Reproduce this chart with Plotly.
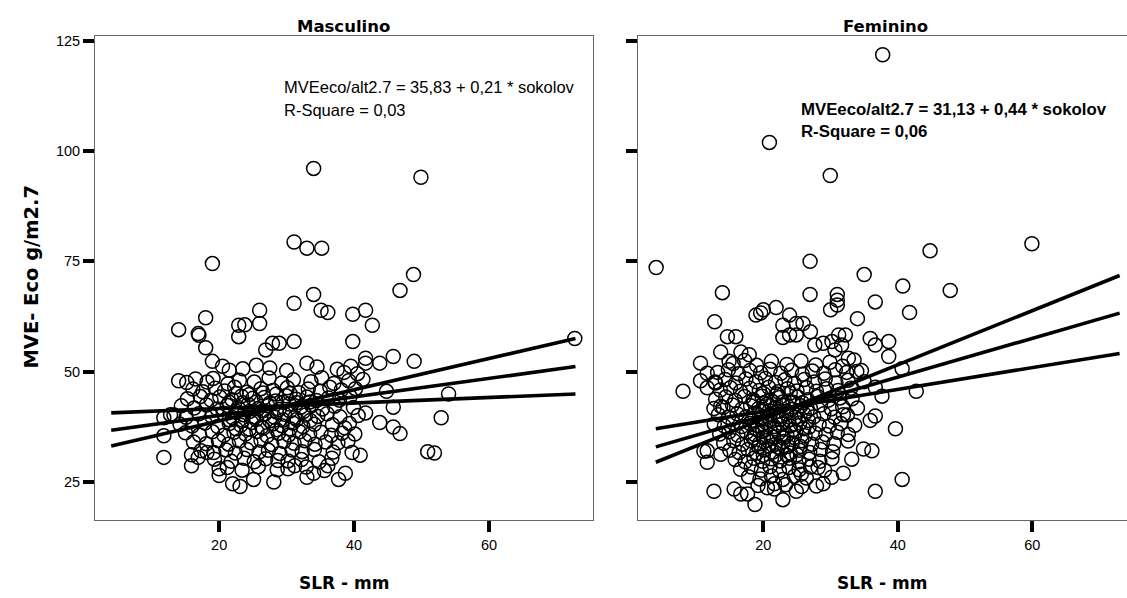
import plotly.graph_objects as go

W, H = 1127, 598

# ---------------- data ----------------
x_ticks = [20, 40, 60]
y_ticks = [25, 50, 75, 100, 125]

# Masculino (SLR mm, MVE g/m2.7)
masc_points = [
    (34.0, 96.1), (49.9, 94.1), (31.1, 79.4), (33.0, 78.0), (35.2, 78.0), (19.0, 74.5), (48.8, 72.0),
    (46.8, 68.4), (34.0, 67.5), (31.1, 65.5), (26.0, 63.9), (35.1, 63.9), (36.1, 63.4), (39.8, 63.0),
    (41.7, 63.9), (18.0, 62.2), (22.9, 60.5), (23.8, 60.6), (26.0, 60.9), (42.7, 60.5), (14.0, 59.5),
    (16.9, 58.6), (17.0, 58.2), (22.9, 57.9), (18.0, 55.4), (26.9, 54.9), (27.9, 56.4), (28.9, 56.4),
    (31.1, 56.8), (39.8, 56.8), (19.0, 52.3), (33.0, 51.9), (41.7, 53.0), (41.7, 51.9), (43.8, 51.9),
    (45.8, 53.4), (48.9, 52.3), (72.7, 57.5), (14.0, 47.9), (44.8, 45.5), (54.0, 44.9), (45.8, 41.9),
    (52.9, 39.5), (11.8, 39.5), (12.8, 40.2), (11.8, 35.4), (11.8, 30.5), (43.8, 38.4), (45.8, 37.4),
    (46.8, 35.9), (50.9, 31.8), (51.9, 31.5), (41.7, 40.6), (22.0, 24.5), (23.1, 23.9), (25.1, 25.5),
    (28.1, 24.9), (33.0, 26.0), (34.0, 26.9), (37.7, 25.5), (38.7, 26.9), (20.0, 27.9), (20.0, 26.4),
    (15.9, 28.6), (15.9, 31.1), (16.9, 30.5), (18.2, 31.6), (30.2, 29.7), (30.2, 27.9), (31.2, 28.6),
    (36.1, 28.6), (39.7, 31.6), (40.9, 31.0), (38.6, 37.2),
    (20.5, 51.2), (21.5, 50.3), (23.5, 50.6), (25.5, 51.4), (27.5, 50.8), (30.0, 50.2), (34.5, 51.0),
    (37.5, 50.5), (38.5, 49.8), (39.5, 51.2), (40.5, 49.5),
    (15.2, 47.5), (16.5, 48.3), (18.2, 47.6), (19.1, 48.4), (21.3, 47.2), (23.0, 48.0), (25.2, 47.6),
    (27.4, 48.5), (29.3, 47.4), (31.0, 48.1), (33.6, 47.7), (35.2, 48.6), (37.0, 47.3), (39.2, 47.9),
    (41.3, 48.2),
    (16.1, 46.0), (17.6, 45.4), (19.4, 46.2), (20.8, 45.6), (22.3, 46.4), (24.1, 45.3), (26.2, 46.1),
    (28.0, 45.7), (30.1, 46.3), (31.8, 45.2), (33.2, 46.0), (35.0, 45.5), (36.4, 46.4), (38.1, 45.8),
    (40.2, 46.1),
    (15.3, 43.8), (17.2, 44.3), (18.8, 43.5), (20.1, 44.2), (21.9, 43.6), (23.3, 44.4), (25.0, 43.9),
    (26.7, 44.1), (28.4, 43.3), (29.9, 44.5), (31.4, 43.7), (33.0, 44.2), (34.4, 43.4), (36.2, 44.0),
    (37.8, 43.5), (39.4, 44.3),
    (14.4, 42.2), (16.3, 41.7), (18.1, 42.4), (19.7, 41.5), (21.2, 42.3), (22.8, 41.8), (24.3, 42.5),
    (25.8, 41.6), (27.2, 42.2), (28.9, 41.4), (30.4, 42.6), (32.1, 41.9), (33.7, 42.3), (35.3, 41.5),
    (37.1, 42.1), (39.9, 41.8),
    (13.3, 40.1), (15.1, 39.6), (17.0, 40.4), (18.9, 39.8), (20.6, 40.5), (22.0, 39.5), (23.6, 40.2),
    (25.1, 39.7), (26.8, 40.4), (28.2, 39.6), (29.7, 40.3), (31.2, 39.5), (32.8, 40.1), (34.6, 39.8),
    (36.0, 40.4), (37.9, 39.7), (40.6, 40.0),
    (14.2, 38.0), (16.0, 37.6), (17.9, 38.3), (19.8, 37.5), (21.5, 38.2), (23.2, 37.8), (24.8, 38.4),
    (26.3, 37.4), (27.9, 38.1), (29.3, 37.7), (30.9, 38.3), (32.4, 37.5), (34.1, 38.0), (36.8, 37.9),
    (39.3, 38.2),
    (15.0, 36.1), (17.1, 35.6), (19.0, 36.3), (20.7, 35.5), (22.2, 36.2), (23.9, 35.8), (25.6, 36.4),
    (27.1, 35.4), (28.8, 36.0), (30.3, 35.6), (31.9, 36.3), (33.4, 35.7), (35.1, 36.2), (36.6, 35.5),
    (38.2, 36.0), (40.1, 35.8),
    (16.2, 34.0), (18.1, 33.6), (19.9, 34.3), (21.4, 33.5), (23.0, 34.2), (24.7, 33.8), (26.2, 34.4),
    (27.8, 33.4), (29.6, 34.1), (31.1, 33.7), (32.7, 34.3), (34.2, 33.5), (35.8, 34.0), (37.6, 33.8),
    (39.1, 34.2),
    (17.3, 32.0), (19.2, 31.6), (21.0, 32.2), (22.4, 31.5), (24.1, 32.3), (25.9, 31.7), (27.3, 32.1),
    (29.0, 31.4), (30.8, 32.2), (32.3, 31.8), (34.1, 32.3), (36.9, 31.7),
    (19.3, 30.1), (21.8, 29.6), (23.7, 30.3), (25.2, 29.5), (26.9, 30.2), (28.7, 29.8), (32.2, 30.0),
    (34.8, 29.5), (36.7, 30.3),
    (21.2, 28.2), (23.4, 27.6), (25.8, 28.4), (28.6, 27.7), (32.9, 28.3), (35.6, 27.5),
    (22.5, 45.0), (24.5, 44.8), (26.5, 45.1), (28.5, 44.9), (30.5, 45.0),
    (21.5, 43.0), (23.5, 42.9), (25.5, 43.1), (27.5, 42.8), (29.5, 43.0), (31.5, 42.9), (33.5, 43.1),
    (22.5, 41.0), (24.5, 40.9), (26.5, 41.1), (28.5, 40.8), (30.5, 41.0), (32.5, 40.9),
    (21.5, 39.0), (23.5, 38.9), (25.5, 39.1), (27.5, 38.8), (29.5, 39.0), (31.5, 39.1), (33.5, 38.9),
    (22.5, 37.0), (24.5, 36.9), (26.5, 37.1), (28.5, 36.8), (30.5, 37.0),
]

# Feminino
fem_points = [
    (37.75, 121.9), (20.9, 102.0), (29.95, 94.5), (4.05, 73.6), (26.95, 75.0), (59.95, 79.0),
    (44.8, 77.4), (13.9, 67.9), (35.0, 72.0), (40.75, 69.4), (47.8, 68.4), (26.95, 67.5), (31.0, 67.5),
    (31.0, 66.2), (31.0, 65.1), (30.0, 64.0), (36.65, 65.8), (41.75, 63.4), (21.9, 64.5), (20.0, 64.0),
    (18.9, 62.8), (19.6, 63.3), (23.9, 62.8), (34.0, 62.0), (12.75, 61.3), (24.9, 60.9), (25.9, 60.9),
    (22.9, 60.5), (22.9, 57.7), (23.9, 58.3), (24.9, 58.3), (27.0, 59.0), (28.9, 56.4), (30.2, 56.8),
    (31.2, 58.3), (32.2, 58.3), (35.9, 57.5), (36.65, 56.0), (38.65, 56.8), (38.65, 53.4), (14.65, 57.9),
    (15.9, 57.9), (13.65, 54.4), (14.9, 52.3), (16.65, 54.4), (17.9, 53.8), (10.65, 51.9), (8.05, 45.5),
    (10.65, 47.9), (11.65, 49.6), (12.65, 41.6), (13.65, 42.1), (40.65, 50.6), (42.75, 45.5),
    (37.65, 44.4), (36.65, 46.4), (39.65, 37.0), (35.9, 38.9), (36.65, 39.9), (34.9, 32.4), (36.15, 32.0),
    (40.65, 25.5), (36.65, 22.8), (12.65, 22.8), (15.65, 23.3), (16.65, 22.2), (17.65, 22.2),
    (18.75, 19.8), (22.9, 20.9), (24.9, 22.8), (27.9, 24.0), (28.9, 24.5), (31.9, 26.9), (21.65, 23.3),
    (21.65, 24.5), (11.65, 29.4), (11.15, 31.9), (13.65, 31.2), (31.9, 40.2), (32.65, 35.7),
    (33.15, 30.1), (30.15, 26.0), (25.65, 26.7), (28.15, 28.2), (27.65, 56.0), (30.65, 54.9),
    (31.65, 56.0), (32.65, 53.0), (33.9, 50.0), (11.65, 46.3), (12.9, 47.4), (11.65, 32.0),
    (15.5, 51.8), (17.2, 52.5), (19.0, 51.4), (21.2, 52.3), (23.5, 51.6), (25.6, 52.4), (27.8, 51.5),
    (29.9, 52.1), (31.8, 51.2), (33.5, 52.6),
    (13.2, 49.8), (14.8, 50.4), (16.3, 49.5), (18.0, 50.2), (19.6, 49.7), (21.0, 50.5), (22.6, 49.6),
    (24.2, 50.3), (25.8, 49.4), (27.3, 50.1), (29.0, 49.6), (30.7, 50.4), (32.4, 49.8), (34.6, 50.2),
    (12.8, 47.6), (14.3, 48.2), (15.9, 47.4), (17.4, 48.3), (18.9, 47.7), (20.3, 48.4), (21.8, 47.5),
    (23.2, 48.1), (24.6, 47.3), (26.1, 48.2), (27.6, 47.6), (29.2, 48.3), (30.8, 47.4), (32.6, 48.0),
    (35.0, 47.7),
    (13.6, 45.8), (15.1, 46.3), (16.6, 45.5), (18.0, 46.2), (19.4, 45.7), (20.8, 46.4), (22.2, 45.4),
    (23.6, 46.1), (25.0, 45.6), (26.4, 46.3), (27.9, 45.5), (29.4, 46.1), (31.1, 45.7), (33.0, 46.2),
    (12.9, 43.7), (14.4, 44.2), (15.8, 43.4), (17.2, 44.3), (18.5, 43.6), (19.8, 44.4), (21.1, 43.5),
    (22.4, 44.1), (23.8, 43.3), (25.1, 44.2), (26.6, 43.6), (28.1, 44.3), (29.7, 43.5), (31.4, 44.0),
    (33.2, 43.8),
    (14.0, 41.8), (15.4, 42.4), (16.8, 41.5), (18.1, 42.2), (19.3, 41.6), (20.5, 42.5), (21.7, 41.7),
    (22.9, 42.3), (24.2, 41.4), (25.6, 42.2), (27.0, 41.6), (28.5, 42.4), (30.1, 41.5), (31.8, 42.0),
    (34.0, 41.7),
    (13.3, 40.2), (14.8, 39.6), (16.1, 40.4), (17.4, 39.7), (18.6, 40.3), (19.8, 39.5), (21.0, 40.2),
    (22.2, 39.8), (23.4, 40.4), (24.7, 39.6), (26.1, 40.3), (27.5, 39.7), (29.0, 40.4), (30.6, 39.6),
    (32.5, 40.1),
    (12.7, 38.1), (14.2, 37.6), (15.5, 38.3), (16.8, 37.5), (18.0, 38.2), (19.2, 37.7), (20.4, 38.4),
    (21.6, 37.5), (22.8, 38.1), (24.0, 37.6), (25.4, 38.3), (26.8, 37.4), (28.3, 38.0), (29.8, 37.6),
    (31.5, 38.2), (33.6, 37.8),
    (13.5, 35.8), (14.9, 36.3), (16.2, 35.5), (17.5, 36.2), (18.7, 35.7), (19.9, 36.4), (21.1, 35.5),
    (22.3, 36.1), (23.5, 35.6), (24.8, 36.3), (26.2, 35.4), (27.7, 36.0), (29.3, 35.7), (31.0, 36.2),
    (14.1, 33.7), (15.6, 34.3), (16.9, 33.5), (18.2, 34.2), (19.4, 33.6), (20.6, 34.4), (21.8, 33.5),
    (23.0, 34.1), (24.3, 33.7), (25.7, 34.3), (27.2, 33.5), (28.8, 34.0), (30.5, 33.6), (32.6, 34.2),
    (15.0, 32.1), (16.4, 31.6), (17.7, 32.3), (19.0, 31.5), (20.2, 32.2), (21.4, 31.7), (22.7, 32.4),
    (24.0, 31.5), (25.4, 32.1), (26.9, 31.6), (28.5, 32.3), (30.3, 31.8),
    (15.8, 30.0), (17.3, 29.5), (18.6, 30.3), (19.9, 29.6), (21.2, 30.2), (22.5, 29.7), (23.9, 30.3),
    (25.3, 29.5), (26.8, 30.1), (28.4, 29.6), (30.2, 30.2),
    (16.6, 27.8), (18.2, 28.3), (19.7, 27.6), (21.0, 28.4), (22.4, 27.5), (23.8, 28.2), (25.3, 27.7),
    (27.0, 28.3), (29.1, 27.6),
    (17.8, 26.1), (19.5, 25.6), (21.2, 26.3), (22.9, 25.5), (24.6, 26.2), (26.4, 25.8),
    (19.2, 24.1), (20.6, 23.6), (23.3, 24.3), (25.7, 23.9),
    (18.6, 43.0), (19.5, 41.0), (20.1, 42.9), (20.9, 41.1), (21.5, 43.0), (22.0, 40.9), (22.9, 43.1),
    (23.5, 41.0), (24.4, 43.0), (25.0, 40.8), (25.8, 42.9), (26.5, 41.0),
    (18.3, 38.9), (19.0, 36.8), (19.6, 39.1), (20.3, 36.9), (21.0, 39.0), (21.7, 37.0), (22.5, 39.1),
    (23.0, 36.9), (23.8, 39.0), (24.5, 36.8), (25.2, 39.1), (26.0, 37.0), (26.7, 38.9),
    (18.5, 34.9), (19.3, 32.9), (20.0, 35.0), (20.8, 33.0), (21.5, 35.1), (22.2, 32.8), (23.0, 34.9),
    (23.7, 33.0), (24.6, 35.0), (25.5, 33.0),
    (20.0, 31.0), (21.8, 30.9), (23.5, 31.0), (25.0, 31.1),
    (20.0, 45.0), (22.0, 44.9), (24.0, 45.1),
]

masc_x = [p[0] for p in masc_points]
masc_y = [p[1] for p in masc_points]
fem_x = [p[0] for p in fem_points]
fem_y = [p[1] for p in fem_points]

# regression fits (from the equations) and the two accompanying lines
masc_intercept, masc_slope = 35.83, 0.21
fem_intercept, fem_slope = 31.13, 0.44
masc_line_x = [4.0, 72.8]
masc_line_a = [40.6, 44.9]
masc_line_b = [33.1, 57.5]
fem_line_x = [4.0, 73.0]
fem_line_a = [37.0, 54.1]
fem_line_b = [29.4, 71.8]

masc_fit = [masc_intercept + masc_slope * v for v in masc_line_x]
fem_fit = [fem_intercept + fem_slope * v for v in fem_line_x]

# ---------------- figure ----------------
FONT = "Liberation Sans, Arial, sans-serif"
BOLD_FONT = "DejaVu Sans, Liberation Sans, Arial, sans-serif"
marker = dict(symbol="circle-open", size=14, color="black", line=dict(width=1.5, color="black"))
line_style = dict(color="black", width=3.6)

fig = go.Figure()
fig.add_trace(go.Scatter(x=masc_x, y=masc_y, mode="markers", marker=marker, xaxis="x", yaxis="y",
                         showlegend=False, hoverinfo="skip"))
fig.add_trace(go.Scatter(x=fem_x, y=fem_y, mode="markers", marker=marker, xaxis="x2", yaxis="y2",
                         showlegend=False, hoverinfo="skip"))
for ys in (masc_line_a, masc_fit, masc_line_b):
    fig.add_trace(go.Scatter(x=masc_line_x, y=ys, mode="lines", line=line_style, xaxis="x", yaxis="y",
                             showlegend=False, hoverinfo="skip"))
for ys in (fem_line_a, fem_fit, fem_line_b):
    fig.add_trace(go.Scatter(x=fem_line_x, y=ys, mode="lines", line=line_style, xaxis="x2", yaxis="y2",
                             showlegend=False, hoverinfo="skip"))

def px(v):
    return v / W

def py(v):
    return 1 - v / H

y_dom = [py(520), py(33)]
common_axis = dict(showgrid=False, zeroline=False, showline=True, linecolor="#666666", linewidth=1,
                   ticks="outside", ticklen=11, tickwidth=4, tickcolor="black",
                   tickfont=dict(family=FONT, size=14.5, color="black"))

fig.update_layout(
    width=W, height=H,
    margin=dict(l=0, r=0, t=0, b=0),
    paper_bgcolor="white", plot_bgcolor="white",
    xaxis=dict(domain=[px(95), px(593)], range=[1.6, 75.4], tickvals=x_ticks, anchor="y", mirror=True,
               **common_axis),
    yaxis=dict(domain=y_dom, range=[16.2, 126.2], tickvals=y_ticks, anchor="x", mirror=True,
               **common_axis),
    xaxis2=dict(domain=[px(638), 1.0], range=[1.35, 74.1], tickvals=x_ticks, anchor="y2", mirror=True,
                **common_axis),
    yaxis2=dict(domain=y_dom, range=[16.2, 126.2], tickvals=y_ticks, anchor="x2", mirror=False,
                showticklabels=False, **common_axis),
)

annotations = [
    dict(text="<b>Masculino</b>", x=px(343), y=py(24), font=dict(size=16.5, family=BOLD_FONT)),
    dict(text="<b>Feminino</b>", x=px(885), y=py(24), font=dict(size=16.5, family=BOLD_FONT)),
    dict(text="<b>SLR - mm</b>", x=px(344), y=py(583), font=dict(size=17, family=BOLD_FONT)),
    dict(text="<b>SLR - mm</b>", x=px(882), y=py(583), font=dict(size=17, family=BOLD_FONT)),
    dict(text="<b>MVE- Eco g/m2.7</b>", x=px(32), y=py(275), font=dict(size=19.5, family=BOLD_FONT),
         textangle=-90),
    dict(text="MVEeco/alt2.7 = 35,83 + 0,21 * sokolov", x=px(282), y=py(84), xanchor="left",
         font=dict(size=16.5)),
    dict(text="R-Square = 0,03", x=px(282), y=py(108), xanchor="left", font=dict(size=16.5)),
    dict(text="<b>MVEeco/alt2.7 = 31,13 + 0,44 * sokolov</b>", x=px(799), y=py(107), xanchor="left",
         font=dict(size=16.8)),
    dict(text="<b>R-Square = 0,06</b>", x=px(799), y=py(129), xanchor="left", font=dict(size=16.8)),
]
for a in annotations:
    a.setdefault("xanchor", "center")
    a["yanchor"] = "middle"
    a["xref"] = "paper"
    a["yref"] = "paper"
    a["showarrow"] = False
    f = a["font"]
    f.setdefault("family", FONT)
    f["color"] = "black"
fig.update_layout(annotations=annotations)

fig.write_html("out.html")
